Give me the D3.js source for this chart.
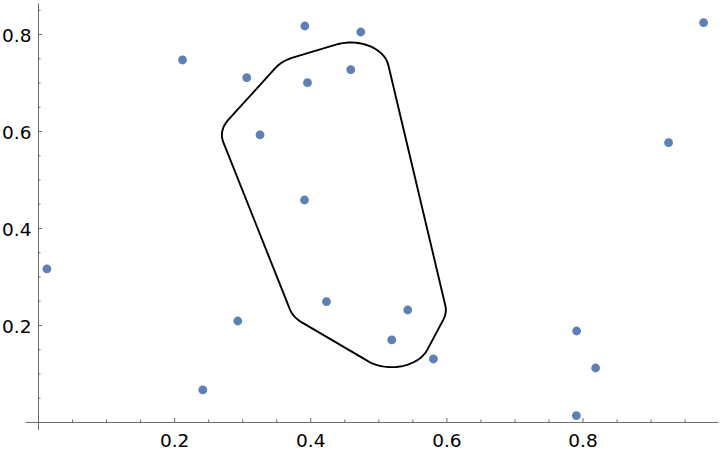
<!DOCTYPE html>
<html>
<head>
<meta charset="utf-8">
<script src="https://cdn.jsdelivr.net/npm/d3@7"></script>
<style>
  html, body { margin: 0; padding: 0; background: #fff; }
  svg { display: block; }
</style>
</head>
<body>
<svg id="chart" width="720" height="452"></svg>
<script>
// ---- data ----
const pointX = [0.0131, 0.2123, 0.2421, 0.2935, 0.3067, 0.3262, 0.3920, 0.3959, 0.3915, 0.4238,
                0.4595, 0.4742, 0.5197, 0.5432, 0.5809, 0.7913, 0.8192, 0.7909, 0.9264, 0.9778];
const pointY = [0.3155, 0.7464, 0.0660, 0.2082, 0.7099, 0.5918, 0.8165, 0.6996, 0.4577, 0.2480,
                0.7264, 0.8041, 0.1691, 0.2309, 0.1299, 0.1876, 0.1113, 0.0130, 0.5759, 0.8233];
// indices of the points enclosed by the outlined region
const regionMembers = [5, 7, 8, 9, 10, 12, 13];
const regionPadding = 0.056; // in data units
const xTickValues = [0.2, 0.4, 0.6, 0.8];
const yTickValues = [0.2, 0.4, 0.6, 0.8];
const xMinorTicks = [0.05,0.1,0.15,0.25,0.3,0.35,0.45,0.5,0.55,0.65,0.7,0.75,0.85,0.9,0.95];
const yMinorTicks = [0.05,0.1,0.15,0.25,0.3,0.35,0.45,0.5,0.55,0.65,0.7,0.75,0.85];
const xDomain = [-0.0191, 0.999];
const yDomain = [-0.0153, 0.8639];

// ---- drawing ----
const svg = d3.select("#chart");
const x = d3.scaleLinear().domain(xDomain).range([25, 718]);
const y = d3.scaleLinear().domain(yDomain).range([429.4, 3]);
const axisColor = "#6b6b6b";
const fontFamily = "'DejaVu Sans', sans-serif";
const fontSize = 18.5;

// axes
const gx = svg.append("g").attr("transform", `translate(0,${y(0)})`);
gx.call(d3.axisBottom(x).tickValues(xTickValues).tickFormat(d3.format(".1f"))
  .tickSizeInner(-4).tickSizeOuter(0).tickPadding(12));
const gxm = svg.append("g").attr("transform", `translate(0,${y(0)})`);
gxm.call(d3.axisBottom(x).tickValues(xMinorTicks).tickFormat("")
  .tickSizeInner(-2.5).tickSizeOuter(0));
gxm.select(".domain").remove();

const gy = svg.append("g").attr("transform", `translate(${x(0)},0)`);
gy.call(d3.axisLeft(y).tickValues(yTickValues).tickFormat(d3.format(".1f"))
  .tickSizeInner(-4).tickSizeOuter(0).tickPadding(6.6));
const gym = svg.append("g").attr("transform", `translate(${x(0)},0)`);
gym.call(d3.axisLeft(y).tickValues(yMinorTicks).tickFormat("")
  .tickSizeInner(-2.5).tickSizeOuter(0));
gym.select(".domain").remove();

[gx, gxm, gy, gym].forEach(g => {
  g.selectAll(".domain").attr("stroke", axisColor).attr("stroke-width", 1);
  g.selectAll(".tick line").attr("stroke", axisColor).attr("stroke-width", 1);
  g.selectAll(".tick text").attr("fill", "#000")
    .style("font-family", fontFamily).style("font-size", fontSize + "px");
});
gy.selectAll(".tick text").attr("dy", "0.42em");

// outlined region: convex hull of members, padded by a disk (in data units)
let hull = d3.polygonHull(regionMembers.map(i => [pointX[i], pointY[i]]));
// standard signed area (positive = counterclockwise with y up)
let area2 = 0;
for (let i = 0; i < hull.length; i++) {
  const p = hull[i], q = hull[(i + 1) % hull.length];
  area2 += p[0] * q[1] - q[0] * p[1];
}
if (area2 < 0) hull = hull.slice().reverse();
const outline = [];
const n = hull.length;
for (let i = 0; i < n; i++) {
  const prev = hull[(i - 1 + n) % n], cur = hull[i], next = hull[(i + 1) % n];
  const a1 = Math.atan2(-(cur[0] - prev[0]), cur[1] - prev[1]);   // outward normal of incoming edge
  let a2 = Math.atan2(-(next[0] - cur[0]), next[1] - cur[1]);     // outward normal of outgoing edge
  while (a2 < a1) a2 += 2 * Math.PI;
  const steps = Math.max(2, Math.ceil((a2 - a1) / 0.05));
  for (let k = 0; k <= steps; k++) {
    const a = a1 + (a2 - a1) * k / steps;
    outline.push([cur[0] + regionPadding * Math.cos(a), cur[1] + regionPadding * Math.sin(a)]);
  }
}
svg.append("path")
  .attr("d", d3.line().x(d => x(d[0])).y(d => y(d[1])).curve(d3.curveLinearClosed)(outline))
  .attr("fill", "none").attr("stroke", "#000").attr("stroke-width", 1.9)
  .attr("stroke-linejoin", "round");

// points
svg.append("g").selectAll("circle")
  .data(pointX.map((v, i) => [v, pointY[i]]))
  .join("circle")
  .attr("cx", d => x(d[0])).attr("cy", d => y(d[1]))
  .attr("r", 4.4).attr("fill", "#5E81B5");
</script>
</body>
</html>
